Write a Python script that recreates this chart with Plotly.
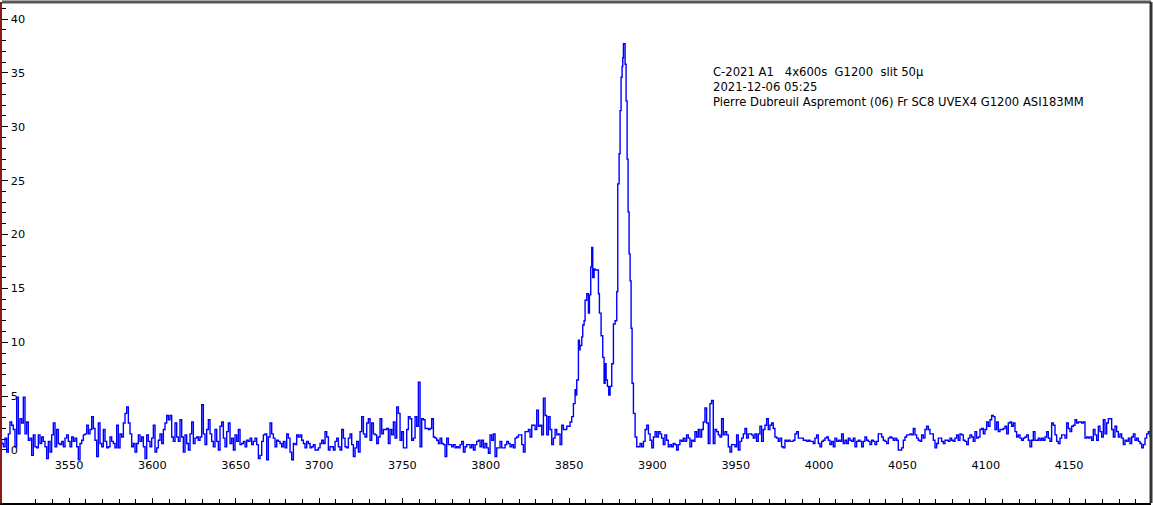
import plotly.graph_objects as go

# Spectrum segments (wavelength in Angstrom, relative flux)
wl_start_a = 3508.6
flux_a = [0.9,0.6,0.3,1.1,-0.2,1.5,2.6,2.3,1.9,0.3,4.9,1.5,2.9,2.5,4.9,1.5,2.6,0.9,1.1,-0.5,
          1.4,0.3,0.2,1.4,0.6,1.2,0.8,0.3,-0.8,0.8,-0.2,1.4,2.5,0.3,1.9,0.6,0.5,0.8,0.3,1.1,
          1.4,0.8,0.3,1.2,0.8,1.1,0.3,-0.9,0.6,0.9,1.4,1.5,2.3,1.5,1.9,3.1,2.0,0.9,-0.6,2.5,
          0.6,0.3,1.9,0.8,0.2,0.3,1.2,0.8,0.6,0.2,2.3,0.2,1.5,1.2,2.5,3.4,4.0,2.5,1.5,0.3,
          0.6,-0.2,0.6,1.4,0.8,1.2,0.3,-0.8,1.4,0.8,0.3,1.1,2.3,-0.2,0.2,0.9,1.5,0.6,1.9,2.5,
          3.2,2.8,3.2,1.2,0.8,2.5,1.2,0.8,2.8,1.2,-0.2,1.4,0.6,0.0,1.5,2.6,0.6,1.1,1.2,0.9,
          1.2,4.2,1.5,0.5,1.9,2.8,1.5,0.8,0.3,1.9,0.8,0.0,2.2,2.6,1.1,0.3,1.7,2.5,0.6,1.1,
          0.0,1.4,0.8,1.9,0.5,0.6,0.8,0.3,0.9,0.8,1.1,0.5,0.8,1.1,0.5,-0.8,-0.5,0.8,1.4,1.5,
          -0.9,1.2,2.5,1.5,1.1,0.3,0.9,0.8,0.6,0.3,0.8,0.2,1.5,1.1,-0.2,-0.9,0.6,0.5,1.4,1.2,
          1.4,0.9,0.6,0.2,0.8,0.6,0.2,0.3,0.5,0.0,0.0,0.2,0.6,0.9,0.6,1.7,1.2,0.0,0.3,0.3,
          0.0,0.8,1.1,0.3,0.0,1.9,1.1,0.3,0.2,1.1,1.5,0.5,-0.6,0.2,0.8,-0.2,1.7,3.1,1.5,1.2,
          2.5,2.9,0.9,2.5,1.5,1.4,0.6,1.2,2.9,1.5,1.9,1.9,2.0,0.6,1.9,1.4,2.6,1.1,4.0,3.4,0.9]

wl_start_b = 3749.6
flux_b = [1.7,0.2,0.2,1.9,3.1,2.9,0.9,1.1,3.1,2.2,6.3,0.3,2.9,2.8,2.0,2.0,1.9,2.0,2.9,1.2,
          1.1,0.9,0.6,1.1,0.6,0.5,-0.6,1.1,0.5,0.5,0.3,0.5,0.2,0.3,0.2,0.5,0.8,-0.2,0.3,0.5,
          0.5,0.2,0.5,0.0,0.5,0.8,0.9,0.3,0.9,0.2,0.6,0.2,-0.3,1.4,0.9,1.5,-0.6,0.2,0.2,0.8,
          0.2,0.2,0.5,0.8,0.6,0.3,0.5,0.2,1.1,1.2,1.4,1.4,0.5,-0.2,1.7,1.7,1.9,1.2,2.3,2.3,
          1.9,3.7,2.2,2.3,1.4,4.8,3.2,1.4,3.1,1.9,0.5,1.1,1.9,1.4,1.5,0.5,2.3,1.9,1.9,2.2,
          2.2,2.6,3.1]

wl_peak = [3852.6,3853.6,3854.2,3854.6,3855.6,3856.2,3856.6,3857.6,3858.2,3859.0,3859.6,3860.6,
           3861.6,3862.2,3863.0,3863.6,3864.2,3865.0,3865.6,3866.6,3867.6,3868.2,3869.2,3870.2,
           3871.0,3871.6,3872.2,3873.0,3873.8,3874.6,3875.6,3876.6,3877.6,3878.6,3879.2,3880.0,
           3880.6,3881.2,3881.8,3882.2,3882.6,3883.2,3883.6,3884.2,3884.8,3885.4,3886.0,3886.6,
           3887.2,3887.8,3888.6,3889.6,3890.6,3891.6,3892.6,3893.6,3894.6,3895.6,3896.6,3897.6,
           3898.6,3899.6,3900.6,3901.6,3902.6,3903.6,3904.6]
flux_peak = [4.3,5.6,5.1,6.5,10.2,9.3,9.7,10.5,11.6,12.0,13.9,14.5,
             12.7,14.4,17.0,18.8,16.0,16.8,16.7,16.7,14.5,12.7,10.6,8.6,
             6.2,8.0,6.5,5.9,5.1,5.9,8.0,11.7,12.0,14.7,24.7,27.5,
             31.5,34.6,35.6,36.4,37.7,37.7,35.8,32.4,27.0,22.1,18.2,15.7,
             11.3,6.2,3.4,1.2,0.3,0.3,0.6,0.3,0.8,1.9,2.3,1.5,
             0.9,0.2,1.2,1.7,1.2,1.7,1.5]

wl_start_d = 3905.5
flux_d = [1.1,0.5,1.4,0.9,0.3,0.5,0.3,0.6,0.5,0.0,0.5,0.9,0.8,1.1,0.8,1.4,1.1,0.3,0.9,0.8,
          1.7,1.2,1.9,1.2,1.9,2.6,3.9,2.5,0.6,4.3,4.6,0.6,1.9,1.7,1.4,1.2,2.9,1.4,1.7,1.4,
          0.3,-0.2,0.5,0.5,0.3,1.4,0.0,0.8,1.1,1.5,2.0,1.1,1.5,1.5,1.4,1.1,1.5,0.8,1.5,2.2,
          0.8,1.9,2.3,2.9,1.9,2.3,2.5,2.0,1.2,1.1,0.8,1.1,0.3,0.2,0.9,0.8,0.9,0.8,0.8,0.9,
          1.5,1.7,1.1,1.1,1.1,0.9,0.9,0.8,0.9,0.8,0.8,0.6,1.1,1.4,0.6,0.3,0.8,0.9,1.1,1.2,
          0.9,0.5,0.8,0.3,1.1,0.8,0.9,0.8,1.5,0.6,0.9,0.6,1.1,0.9,0.8,1.1,0.3,0.8,0.9,0.8,
          0.3,0.8,1.2,0.9,0.8,0.5,0.9,0.8,0.5,0.8,1.5,1.5,1.2,0.9,0.8,0.6,1.1,1.2,1.1,0.9,
          1.1,0.9,0.0,0.0,0.2,0.9,1.2,1.4,1.4,1.5,1.4,2.0,1.4,1.1,0.9,0.8,1.4,1.1,1.9,2.2,
          1.9,1.5,1.5,0.9,0.2,0.6,1.1,1.1,0.8,0.6,0.9,0.9,0.8,1.1,0.9,0.8,1.1,1.4,0.9,1.5,
          1.4,0.9,0.8,0.5,1.1,1.4,1.2,0.8,1.7,1.1,1.2,1.9,2.0,1.5,1.9,2.6,2.2,2.8,3.2,3.1,
          1.9,2.6,1.7,1.9,1.9,2.0,2.2,1.5,2.5,2.6,2.2,2.5,1.7,1.2,1.4,1.1,0.9,1.1,1.2,1.4,
          0.9,0.3,0.9,1.7,0.9,0.9,1.1,0.9,1.1,0.9,1.2,1.7,1.1,0.8,2.5,2.3,1.4,0.8,0.6,1.1,
          1.4,1.4,1.1,2.5,2.0,1.7,2.2,2.3,2.8,2.5,2.6,2.6,2.5,2.6,1.1,1.2,1.1,1.2,0.9,1.9,
          1.4,0.9,2.2,1.7,1.2,2.8,1.5,2.5,2.9,2.9,1.9,1.2,2.2,1.7,1.2,1.5,1.1,0.5,0.9,0.8,
          1.1,0.6,1.2,1.5,0.9,1.1,0.8,0.6,0.2,0.5,1.1,1.5,1.7,1.2]

x_ticks = [3550, 3600, 3650, 3700, 3750, 3800, 3850, 3900, 3950, 4000, 4050, 4100, 4150]
y_ticks = [0, 5, 10, 15, 20, 25, 30, 35, 40]
caption = ["C-2021 A1   4x600s  G1200  slit 50\u00b5",
           "2021-12-06 05:25",
           "Pierre Dubreuil Aspremont (06) Fr SC8 UVEX4 G1200 ASI183MM"]

wl = ([wl_start_a + i for i in range(len(flux_a))]
      + [wl_start_b + i for i in range(len(flux_b))]
      + wl_peak
      + [wl_start_d + i for i in range(len(flux_d))])
flux = flux_a + flux_b + flux_peak + flux_d

fig = go.Figure()
fig.add_trace(go.Scatter(x=wl, y=flux, mode="lines",
                         line=dict(color="#0000FF", width=1.4, shape="hv"),
                         hoverinfo="skip"))

tick_font = dict(family="Verdana, DejaVu Sans, sans-serif", size=11.3, color="#000000")

fig.update_layout(
    width=1153, height=505,
    margin=dict(l=2, r=2, t=2, b=2),
    paper_bgcolor="white", plot_bgcolor="white",
    showlegend=False,
    xaxis=dict(range=[3509.8, 4199.1], showgrid=False, zeroline=False,
               tickmode="array", tickvals=x_ticks, ticktext=[str(v) for v in x_ticks],
               ticks="inside", ticklen=5, tickcolor="#000", tickwidth=1,
               ticklabelposition="inside", ticklabelstandoff=26,
               minor=dict(dtick=10, ticks="inside", ticklen=4, tickcolor="#000", showgrid=False),
               showline=True, linecolor="#000000", linewidth=2,
               tickfont=tick_font),
    yaxis=dict(range=[-4.92, 41.58], showgrid=False, zeroline=False,
               tickmode="array", tickvals=y_ticks, ticktext=[str(v) for v in y_ticks],
               ticks="inside", ticklen=6, tickcolor="#000", tickwidth=1,
               ticklabelposition="inside", ticklabelstandoff=2,
               minor=dict(dtick=1, ticks="inside", ticklen=4, tickcolor="#000", showgrid=False),
               showline=True, linecolor="#8B1A1A", linewidth=2,
               tickfont=tick_font),
    shapes=[
        dict(type="line", xref="paper", yref="paper", x0=0, x1=1, y0=1, y1=1,
             line=dict(color="#555555", width=3)),
        dict(type="line", xref="paper", yref="paper", x0=1, x1=1, y0=0, y1=1,
             line=dict(color="#333333", width=3)),
    ],
    annotations=[dict(text="<br>".join(caption), xref="paper", yref="paper",
                      x=(711 - 2) / 1149, y=(505 - 2 - 63) / 501,
                      xanchor="left", yanchor="top", align="left", showarrow=False,
                      font=dict(family="Verdana, DejaVu Sans, sans-serif", size=11.6, color="#000"))],
)

fig.write_html("out.html", config={"displayModeBar": False},
               post_script="document.body.style.margin='0px';document.body.style.overflow='hidden';")
